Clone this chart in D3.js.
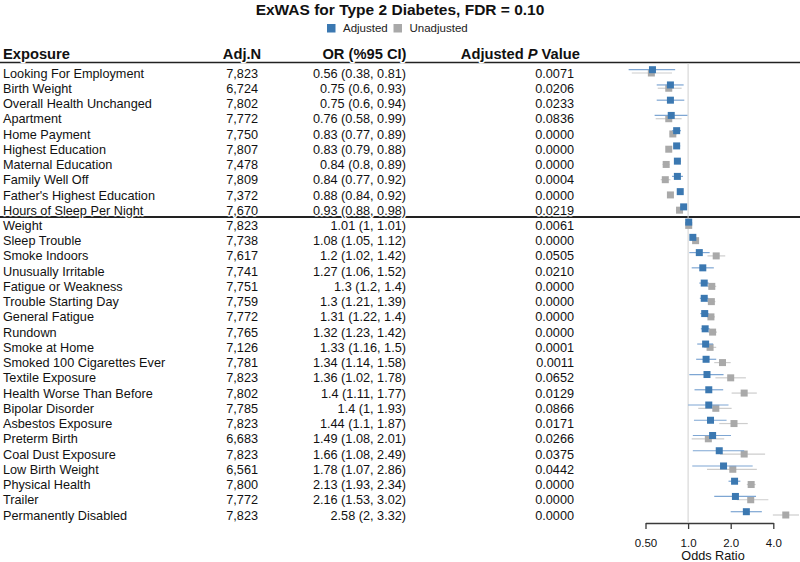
<!DOCTYPE html>
<html>
<head>
<meta charset="utf-8">
<script src="https://cdnjs.cloudflare.com/ajax/libs/d3/7.8.5/d3.min.js"></script>
</head>
<body style="margin:0">
<div id="chart"></div>
<script>
// rows, top to bottom
var exposures = ["Looking For Employment", "Birth Weight", "Overall Health Unchanged", "Apartment",
  "Home Payment", "Highest Education", "Maternal Education", "Family Well Off",
  "Father's Highest Education", "Hours of Sleep Per Night", "Weight", "Sleep Trouble",
  "Smoke Indoors", "Unusually Irritable", "Fatigue or Weakness", "Trouble Starting Day",
  "General Fatigue", "Rundown", "Smoke at Home", "Smoked 100 Cigarettes Ever",
  "Textile Exposure", "Health Worse Than Before", "Bipolar Disorder", "Asbestos Exposure",
  "Preterm Birth", "Coal Dust Exposure", "Low Birth Weight", "Physical Health", "Trailer",
  "Permanently Disabled"];

var adjN = [7823, 6724, 7802, 7772, 7750, 7807, 7478, 7809, 7372, 7670, 7823, 7738, 7617, 7741,
  7751, 7759, 7772, 7765, 7126, 7781, 7823, 7802, 7785, 7823, 6683, 7823, 6561, 7800, 7772, 7823];

var adjOR = [0.56, 0.75, 0.75, 0.76, 0.83, 0.83, 0.84, 0.84, 0.88, 0.93, 1.01, 1.08, 1.2, 1.27,
  1.3, 1.3, 1.31, 1.32, 1.33, 1.34, 1.36, 1.4, 1.4, 1.44, 1.49, 1.66, 1.78, 2.13, 2.16, 2.58];
var adjLower = [0.38, 0.6, 0.6, 0.58, 0.77, 0.79, 0.8, 0.77, 0.84, 0.88, 1, 1.05, 1.02, 1.06,
  1.2, 1.21, 1.22, 1.23, 1.16, 1.14, 1.02, 1.11, 1, 1.1, 1.08, 1.08, 1.07, 1.93, 1.53, 2];
var adjUpper = [0.81, 0.93, 0.94, 0.99, 0.89, 0.88, 0.89, 0.92, 0.92, 0.98, 1.01, 1.12, 1.42, 1.52,
  1.4, 1.39, 1.4, 1.42, 1.5, 1.58, 1.78, 1.77, 1.93, 1.87, 2.01, 2.49, 2.86, 2.34, 3.02, 3.32];
var adjP = ["0.0071", "0.0206", "0.0233", "0.0836", "0.0000", "0.0000", "0.0000", "0.0004",
  "0.0000", "0.0219", "0.0061", "0.0000", "0.0505", "0.0210", "0.0000", "0.0000", "0.0000",
  "0.0000", "0.0001", "0.0011", "0.0652", "0.0129", "0.0866", "0.0171", "0.0266", "0.0375",
  "0.0442", "0.0000", "0.0000", "0.0000"];

// unadjusted estimates (null = not shown)
var unadjOR = [0.55, 0.73, null, 0.73, 0.78, 0.73, 0.70, 0.69, 0.75, 0.87, 1.01, 1.13, 1.58, null,
  1.47, 1.46, 1.45, 1.49, 1.43, 1.75, 2.00, 2.49, 1.57, 2.11, 1.39, 2.49, 2.07, 2.79, 2.77, 4.90];
var unadjLower = [0.40, 0.61, null, 0.59, 0.74, 0.70, 0.66, 0.64, 0.71, 0.82, 1.00, 1.10, 1.37, null,
  1.37, 1.37, 1.36, 1.39, 1.30, 1.53, 1.56, 2.03, 1.18, 1.66, 1.06, 1.68, 1.36, 2.60, 2.21, 3.97];
var unadjUpper = [0.77, 0.90, null, 0.90, 0.83, 0.77, 0.74, 0.75, 0.78, 0.92, 1.02, 1.16, 1.83, null,
  1.58, 1.56, 1.55, 1.60, 1.58, 2.00, 2.56, 3.06, 2.03, 2.64, 1.80, 3.50, 3.06, 3.00, 3.69, 6.08];

var axisTicks = [0.5, 1, 2, 4];
var axisTickLabels = ["0.50", "1.0", "2.0", "4.0"];

var seriesNames = ["Adjusted", "Unadjusted"];

(function() {
  var width = 800,
    height = 562,
    font = "Liberation Sans, Arial, Helvetica, sans-serif",
    blue = "#3b78b1",
    blueCI = "#7ea6d3",
    grey = "#a9a9a9",
    greyCI = "#cdcdcd",
    sq = 7

  var svg = d3.select("#chart")
    .append("svg")
    .attr("width", width)
    .attr("height", height)
    .attr("font-family", font)

  var rows = exposures.map(function(name, i) {
    return {
      name: name, n: adjN[i], or: adjOR[i], lo: adjLower[i], hi: adjUpper[i], p: adjP[i],
      uor: unadjOR[i], ulo: unadjLower[i], uhi: unadjUpper[i]
    }
  })

  var yPositionScale = d3.scalePoint()
    .domain(exposures)
    .range([73, 515])

  var xPositionScale = d3.scaleLog()
    .base(2)
    .domain([0.5, 4])
    .range([645.5, 773.3])

  // axis
  var xAxis = d3.axisBottom(xPositionScale)
    .tickValues(axisTicks)
    .tickFormat(function(d, i) { return axisTickLabels[i] })
    .tickSize(6)
    .tickSizeOuter(0)
    .tickPadding(9.5)

  var axisG = svg.append("g")
    .attr("transform", "translate(0,523)")
    .style("color", "#3a3a3a")
    .call(xAxis)
  axisG.selectAll("text")
    .attr("font-size", 11.5)
    .attr("fill", "#111")
  axisG.selectAll(".tick line").attr("stroke-width", 1.3)
  axisG.select(".domain").attr("stroke-width", 1.3)

  svg.append("text")
    .attr("x", 713)
    .attr("y", 560)
    .attr("text-anchor", "middle")
    .attr("font-size", 12.7)
    .attr("fill", "#111")
    .text("Odds Ratio")

  // title + legend
  svg.append("text")
    .attr("x", 400)
    .attr("y", 14.5)
    .attr("text-anchor", "middle")
    .attr("font-weight", "bold")
    .attr("font-size", 15.5)
    .attr("fill", "#111")
    .text("ExWAS for Type 2 Diabetes, FDR = 0.10")

  var legend = svg.selectAll(".legend")
    .data(seriesNames)
    .enter().append("g")
    .attr("class", "legend")
    .attr("transform", function(d, i) { return "translate(" + (327 + i * 66.5) + ",24)" })
  legend.append("rect")
    .attr("width", 8.5)
    .attr("height", 8.5)
    .attr("fill", function(d, i) { return i === 0 ? blue : grey })
  legend.append("text")
    .attr("x", 16)
    .attr("y", 8.3)
    .attr("font-size", 11.5)
    .attr("fill", "#222")
    .text(function(d) { return d })

  // rules
  svg.append("line")
    .attr("x1", 0).attr("x2", width)
    .attr("y1", 62.5).attr("y2", 62.5)
    .attr("stroke", "#222")
    .attr("stroke-width", 1.7)

  var sepY = (yPositionScale("Hours of Sleep Per Night") + yPositionScale("Weight")) / 2 - 0.8
  svg.append("line")
    .attr("x1", 0).attr("x2", width)
    .attr("y1", sepY).attr("y2", sepY)
    .attr("stroke", "#222")
    .attr("stroke-width", 1.9)

  svg.append("line")
    .attr("x1", xPositionScale(1)).attr("x2", xPositionScale(1))
    .attr("y1", 63).attr("y2", 523)
    .attr("stroke", "#d0d0d0")
    .attr("stroke-width", 1)

  // text drawn twice: a white outline copy first, so the rules break around descenders
  function twice(parent, attrs, fn) {
    ["knock", "ink"].forEach(function(layer) {
      var t = parent.append("text")
      Object.keys(attrs).forEach(function(k) { t.attr(k, attrs[k]) })
      if (layer === "knock") t.attr("stroke", "#fff").attr("stroke-width", 3).attr("stroke-linejoin", "round").attr("fill", "#fff")
      fn(t)
    })
  }

  // headers
  var head = svg.append("g")
    .attr("font-weight", "bold")
    .attr("font-size", 14.7)
    .attr("fill", "#111")
  twice(head, { x: 3, y: 59 }, function(t) { t.text("Exposure") })
  twice(head, { x: 242, y: 59, "text-anchor": "middle" }, function(t) { t.text("Adj.N") })
  twice(head, { x: 406.5, y: 59, "text-anchor": "end" }, function(t) { t.text("OR (%95 CI)") })
  twice(head, { x: 580, y: 59, "text-anchor": "end" }, function(t) {
    t.append("tspan").text("Adjusted ")
    t.append("tspan").attr("font-style", "italic").text("P")
    t.append("tspan").text(" Value")
  })

  // table rows
  var row = svg.selectAll(".row")
    .data(rows)
    .enter().append("g")
    .attr("class", "row")
    .attr("transform", function(d) { return "translate(0," + (yPositionScale(d.name) + 4.6) + ")" })
    .attr("font-size", 12.7)
    .attr("fill", "#111")

  row.each(function(d) {
    var g = d3.select(this)
    twice(g, { x: 3 }, function(t) { t.text(d.name) })
    twice(g, { x: 258, "text-anchor": "end" }, function(t) { t.text(d3.format(",")(d.n)) })
    twice(g, { x: 406, "text-anchor": "end" }, function(t) { t.text(d.or + " (" + d.lo + ", " + d.hi + ")") })
    twice(g, { x: 574, "text-anchor": "end" }, function(t) { t.text(d.p) })
  })

  // forest: unadjusted first, adjusted on top
  var unadj = rows.filter(function(d) { return d.uor !== null })

  svg.selectAll(".uci")
    .data(unadj)
    .enter().append("line")
    .attr("class", "uci")
    .attr("x1", function(d) { return xPositionScale(d.ulo) })
    .attr("x2", function(d) { return xPositionScale(d.uhi) })
    .attr("y1", function(d) { return yPositionScale(d.name) })
    .attr("y2", function(d) { return yPositionScale(d.name) })
    .attr("stroke", greyCI)
    .attr("stroke-width", 1.2)

  svg.selectAll(".upt")
    .data(unadj)
    .enter().append("rect")
    .attr("class", "upt")
    .attr("x", function(d) { return xPositionScale(d.uor) - sq / 2 })
    .attr("y", function(d) { return yPositionScale(d.name) - sq / 2 })
    .attr("width", sq)
    .attr("height", sq)
    .attr("fill", grey)

  svg.selectAll(".aci")
    .data(rows)
    .enter().append("line")
    .attr("class", "aci")
    .attr("x1", function(d) { return xPositionScale(d.lo) })
    .attr("x2", function(d) { return xPositionScale(d.hi) })
    .attr("y1", function(d) { return yPositionScale(d.name) - 3.3 })
    .attr("y2", function(d) { return yPositionScale(d.name) - 3.3 })
    .attr("stroke", blueCI)
    .attr("stroke-width", 1.2)

  svg.selectAll(".apt")
    .data(rows)
    .enter().append("rect")
    .attr("class", "apt")
    .attr("x", function(d) { return xPositionScale(d.or) - sq / 2 })
    .attr("y", function(d) { return yPositionScale(d.name) - 3.3 - sq / 2 })
    .attr("width", sq)
    .attr("height", sq)
    .attr("fill", blue)
})();
</script>
</body>
</html>
